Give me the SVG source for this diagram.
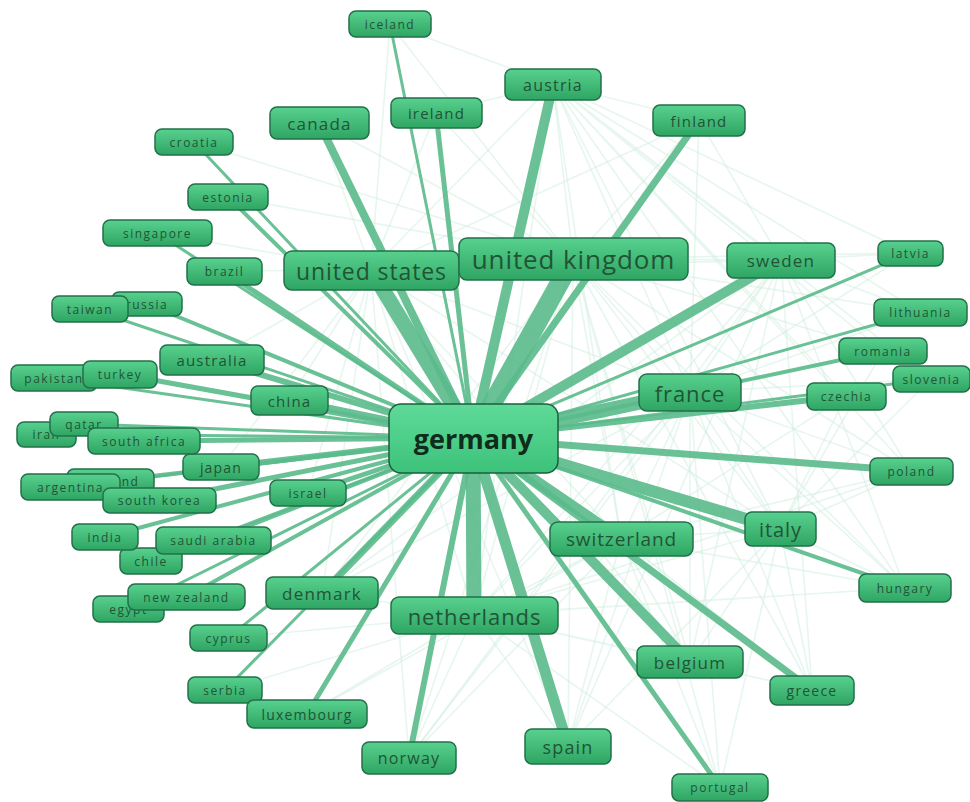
<svg xmlns="http://www.w3.org/2000/svg" width="970" height="802" viewBox="0 0 970 802">
<defs>
<linearGradient id="g" x1="0" y1="0" x2="0" y2="1">
<stop offset="0" stop-color="#58d08e"/>
<stop offset="1" stop-color="#2fa563"/>
</linearGradient>
<linearGradient id="gc" x1="0" y1="0" x2="0" y2="1">
<stop offset="0" stop-color="#5fda98"/>
<stop offset="1" stop-color="#3cc27a"/>
</linearGradient>
<style>
.n rect{fill:url(#g);stroke:#22704a;stroke-width:1.5}
.n text{font-family:"Open Sans","DejaVu Sans",sans-serif;fill:#1f5535;text-anchor:middle;dominant-baseline:central}
.n text.s{font-size:12px;letter-spacing:1.5px}
.n text.m{letter-spacing:1.2px}
.n text.l{letter-spacing:0.9px}
.mesh path{fill:none;stroke:#cfeee0;stroke-width:1.6;opacity:0.5}
.e line{stroke:#5abb8b;stroke-linecap:butt;opacity:0.9}
</style>
</defs>
<rect width="970" height="802" fill="#ffffff"/>
<g class="mesh" id="mesh">
<path d="M573 259L390 24M573 259L699 120M573 259L781 260M573 259L910 253M573 259L920 312M573 259L883 351M573 259L690 392M573 259L911 471M573 259L780 529M573 259L905 588M573 259L621 539M573 259L690 662M573 259L812 690M573 259L568 746M573 259L720 787M573 259L474 615M573 259L409 758M573 259L322 593M573 259L436 113M573 259L553 84M573 259L319 123M573 259L194 142M573 259L228 197"/>
<path d="M371 270L319 123M371 270L390 24M371 270L436 113M371 270L157 233M371 270L224 271M371 270L212 360M371 270L289 400M371 270L221 467M371 270L308 493M371 270L474 615M371 270L322 593M371 270L690 392M371 270L621 539M371 270L780 529M371 270L690 662M371 270L568 746M371 270L409 758M371 270L553 84M371 270L699 120M371 270L781 260"/>
<path d="M690 392L553 84M690 392L699 120M690 392L781 260M690 392L911 471M690 392L780 529M690 392L905 588M690 392L621 539M690 392L690 662M690 392L812 690M690 392L720 787M690 392L568 746M690 392L474 615M690 392L910 253M690 392L920 312M690 392L883 351M690 392L931 379M690 392L409 758M690 392L322 593"/>
<path d="M474 615L690 662M474 615L568 746M474 615L409 758M474 615L322 593M474 615L307 714M474 615L228 638M474 615L225 690M474 615L621 539M474 615L780 529M474 615L812 690M474 615L720 787M474 615L911 471M474 615L905 588M474 615L553 84M474 615L781 260"/>
<path d="M621 539L553 84M621 539L780 529M621 539L812 690M621 539L690 662M621 539L905 588M621 539L911 471M621 539L720 787M621 539L568 746M621 539L409 758M621 539L307 714M621 539L846 396"/>
<path d="M780 529L812 690M780 529L905 588M780 529L911 471M780 529L690 662M780 529L720 787M780 529L846 396M780 529L931 379M780 529L553 84M780 529L883 351M780 529L568 746"/>
<path d="M553 84L699 120M553 84L781 260M553 84L390 24M553 84L436 113M553 84L910 253M553 84L920 312M553 84L846 396M553 84L905 588M553 84L931 379M553 84L911 471M553 84L883 351"/>
<path d="M781 260L699 120M781 260L910 253M781 260L920 312M781 260L911 471M781 260L905 588M781 260L812 690M781 260L690 662M781 260L568 746M781 260L409 758M781 260L322 593"/>
</g>
<g class="e" id="connectors">
<line x1="473" y1="438" x2="390" y2="24" stroke-width="3"/>
<line x1="473" y1="438" x2="553" y2="84" stroke-width="10"/>
<line x1="473" y1="438" x2="436" y2="113" stroke-width="5"/>
<line x1="473" y1="438" x2="699" y2="120" stroke-width="7"/>
<line x1="473" y1="438" x2="319" y2="123" stroke-width="8"/>
<line x1="473" y1="438" x2="194" y2="142" stroke-width="3"/>
<line x1="473" y1="438" x2="228" y2="197" stroke-width="4"/>
<line x1="473" y1="438" x2="157" y2="233" stroke-width="3"/>
<line x1="473" y1="438" x2="224" y2="271" stroke-width="5"/>
<line x1="473" y1="438" x2="371" y2="270" stroke-width="15"/>
<line x1="473" y1="438" x2="573" y2="259" stroke-width="19"/>
<line x1="473" y1="438" x2="781" y2="260" stroke-width="10"/>
<line x1="473" y1="438" x2="910" y2="253" stroke-width="3"/>
<line x1="473" y1="438" x2="920" y2="312" stroke-width="3"/>
<line x1="473" y1="438" x2="883" y2="351" stroke-width="4"/>
<line x1="473" y1="438" x2="931" y2="379" stroke-width="3"/>
<line x1="473" y1="438" x2="846" y2="396" stroke-width="6"/>
<line x1="473" y1="438" x2="690" y2="392" stroke-width="14"/>
<line x1="473" y1="438" x2="911" y2="471" stroke-width="7"/>
<line x1="473" y1="438" x2="780" y2="529" stroke-width="12"/>
<line x1="473" y1="438" x2="905" y2="588" stroke-width="4"/>
<line x1="473" y1="438" x2="621" y2="539" stroke-width="11"/>
<line x1="473" y1="438" x2="690" y2="662" stroke-width="10"/>
<line x1="473" y1="438" x2="812" y2="690" stroke-width="7"/>
<line x1="473" y1="438" x2="720" y2="787" stroke-width="5"/>
<line x1="473" y1="438" x2="568" y2="746" stroke-width="11"/>
<line x1="473" y1="438" x2="409" y2="758" stroke-width="6"/>
<line x1="473" y1="438" x2="474" y2="615" stroke-width="15"/>
<line x1="473" y1="438" x2="307" y2="714" stroke-width="5"/>
<line x1="473" y1="438" x2="225" y2="690" stroke-width="3"/>
<line x1="473" y1="438" x2="228" y2="638" stroke-width="3"/>
<line x1="473" y1="438" x2="322" y2="593" stroke-width="7"/>
<line x1="473" y1="438" x2="186" y2="597" stroke-width="4"/>
<line x1="473" y1="438" x2="128" y2="609" stroke-width="3"/>
<line x1="473" y1="438" x2="151" y2="561" stroke-width="3"/>
<line x1="473" y1="438" x2="213" y2="540" stroke-width="4"/>
<line x1="473" y1="438" x2="105" y2="537" stroke-width="4"/>
<line x1="473" y1="438" x2="308" y2="493" stroke-width="5"/>
<line x1="473" y1="438" x2="159" y2="500" stroke-width="5"/>
<line x1="473" y1="438" x2="70" y2="487" stroke-width="3"/>
<line x1="473" y1="438" x2="110" y2="481" stroke-width="4"/>
<line x1="473" y1="438" x2="221" y2="467" stroke-width="6"/>
<line x1="473" y1="438" x2="144" y2="441" stroke-width="5"/>
<line x1="473" y1="438" x2="84" y2="424" stroke-width="3"/>
<line x1="473" y1="438" x2="46" y2="434" stroke-width="3"/>
<line x1="473" y1="438" x2="289" y2="400" stroke-width="7"/>
<line x1="473" y1="438" x2="212" y2="360" stroke-width="6"/>
<line x1="473" y1="438" x2="120" y2="374" stroke-width="5"/>
<line x1="473" y1="438" x2="54" y2="378" stroke-width="3"/>
<line x1="473" y1="438" x2="90" y2="309" stroke-width="3"/>
<line x1="473" y1="438" x2="147" y2="304" stroke-width="4"/>
</g>
<g class="n">
<g id="iceland"><rect x="349" y="11" width="82" height="26" rx="7"/><text class="s" x="390" y="24">iceland</text></g>
<g id="austria"><rect x="505" y="69" width="96" height="31" rx="7"/><text class="m" x="553" y="84.5" font-size="16">austria</text></g>
<g id="ireland"><rect x="391" y="98" width="91" height="30" rx="7"/><text class="m" x="436.5" y="113" font-size="15">ireland</text></g>
<g id="finland"><rect x="653" y="105" width="92" height="31" rx="7"/><text class="m" x="699" y="120.5" font-size="15">finland</text></g>
<g id="canada"><rect x="270" y="107" width="99" height="32" rx="7"/><text class="m" x="319.5" y="123" font-size="17">canada</text></g>
<g id="croatia"><rect x="155" y="129" width="78" height="26" rx="7"/><text class="s" x="194" y="142">croatia</text></g>
<g id="estonia"><rect x="188" y="184" width="80" height="26" rx="7"/><text class="s" x="228" y="197">estonia</text></g>
<g id="singapore"><rect x="103" y="220" width="109" height="26" rx="7"/><text class="s" x="157.5" y="233">singapore</text></g>
<g id="brazil"><rect x="187" y="258" width="75" height="27" rx="7"/><text class="s" x="224.5" y="271.5">brazil</text></g>
<g id="united-states"><rect x="284" y="251" width="175" height="39" rx="8"/><text class="l" x="371.5" y="270.5" font-size="23">united states</text></g>
<g id="united-kingdom"><rect x="459" y="238" width="229" height="42" rx="8"/><text class="l" x="573.5" y="259" font-size="26">united kingdom</text></g>
<g id="sweden"><rect x="727" y="243" width="108" height="35" rx="7"/><text class="m" x="781" y="260.5" font-size="17">sweden</text></g>
<g id="latvia"><rect x="878" y="241" width="65" height="25" rx="7"/><text class="s" x="910.5" y="253.5">latvia</text></g>
<g id="lithuania"><rect x="874" y="299" width="93" height="27" rx="7"/><text class="s" x="920.5" y="312.5">lithuania</text></g>
<g id="romania"><rect x="839" y="338" width="88" height="26" rx="7"/><text class="s" x="883" y="351">romania</text></g>
<g id="slovenia"><rect x="893" y="366" width="77" height="26" rx="7"/><text class="s" x="931.5" y="379">slovenia</text></g>
<g id="czechia"><rect x="807" y="383" width="79" height="27" rx="7"/><text class="s" x="846.5" y="396.5">czechia</text></g>
<g id="france"><rect x="639" y="374" width="102" height="37" rx="8"/><text class="l" x="690" y="392.5" font-size="22">france</text></g>
<g id="poland"><rect x="870" y="458" width="83" height="27" rx="7"/><text class="s" x="911.5" y="471.5">poland</text></g>
<g id="italy"><rect x="745" y="512" width="71" height="34" rx="7"/><text class="l" x="780.5" y="529" font-size="20">italy</text></g>
<g id="hungary"><rect x="859" y="574" width="92" height="28" rx="7"/><text class="s" x="905" y="588">hungary</text></g>
<g id="switzerland"><rect x="550" y="522" width="143" height="34" rx="8"/><text class="l" x="621.5" y="539" font-size="19">switzerland</text></g>
<g id="belgium"><rect x="637" y="646" width="106" height="32" rx="7"/><text class="m" x="690" y="662" font-size="17">belgium</text></g>
<g id="greece"><rect x="770" y="676" width="84" height="29" rx="7"/><text class="m" x="812" y="690.5" font-size="14">greece</text></g>
<g id="portugal"><rect x="672" y="774" width="96" height="27" rx="7"/><text class="s" x="720" y="787.5">portugal</text></g>
<g id="spain"><rect x="525" y="729" width="86" height="35" rx="7"/><text class="m" x="568" y="746.5" font-size="18">spain</text></g>
<g id="norway"><rect x="362" y="742" width="94" height="32" rx="7"/><text class="m" x="409" y="758" font-size="16">norway</text></g>
<g id="netherlands"><rect x="391" y="597" width="167" height="37" rx="8"/><text class="l" x="474.5" y="615.5" font-size="22">netherlands</text></g>
<g id="serbia"><rect x="188" y="677" width="74" height="26" rx="7"/><text class="s" x="225" y="690">serbia</text></g>
<g id="luxembourg"><rect x="247" y="700" width="120" height="28" rx="7"/><text class="m" x="307" y="714" font-size="14">luxembourg</text></g>
<g id="cyprus"><rect x="190" y="625" width="77" height="26" rx="7"/><text class="s" x="228.5" y="638">cyprus</text></g>
<g id="denmark"><rect x="266" y="577" width="112" height="32" rx="7"/><text class="m" x="322" y="593" font-size="17">denmark</text></g>
<g id="egypt"><rect x="93" y="596" width="71" height="26" rx="7"/><text class="s" x="128.5" y="609">egypt</text></g>
<g id="new-zealand"><rect x="128" y="584" width="117" height="26" rx="7"/><text class="s" x="186.5" y="597">new zealand</text></g>
<g id="chile"><rect x="120" y="548" width="62" height="26" rx="7"/><text class="s" x="151" y="561">chile</text></g>
<g id="india"><rect x="72" y="524" width="66" height="26" rx="7"/><text class="s" x="105" y="537">india</text></g>
<g id="saudi-arabia"><rect x="156" y="527" width="115" height="27" rx="7"/><text class="s" x="213.5" y="540.5">saudi arabia</text></g>
<g id="israel"><rect x="270" y="480" width="76" height="26" rx="7"/><text class="s" x="308" y="493">israel</text></g>
<g id="thailand"><rect x="67" y="469" width="87" height="24" rx="7"/><text class="s" x="110.5" y="481">thailand</text></g>
<g id="argentina"><rect x="21" y="474" width="99" height="26" rx="7"/><text class="s" x="70.5" y="487">argentina</text></g>
<g id="south-korea"><rect x="103" y="488" width="113" height="25" rx="7"/><text class="s" x="159.5" y="500.5">south korea</text></g>
<g id="japan"><rect x="183" y="454" width="76" height="26" rx="7"/><text class="m" x="221" y="467" font-size="14">japan</text></g>
<g id="iran"><rect x="17" y="422" width="59" height="25" rx="7"/><text class="s" x="46.5" y="434.5">iran</text></g>
<g id="qatar"><rect x="50" y="412" width="68" height="24" rx="7"/><text class="s" x="84" y="424">qatar</text></g>
<g id="south-africa"><rect x="88" y="428" width="112" height="26" rx="7"/><text class="s" x="144" y="441">south africa</text></g>
<g id="china"><rect x="251" y="386" width="77" height="29" rx="7"/><text class="m" x="289.5" y="400.5" font-size="15">china</text></g>
<g id="australia"><rect x="160" y="345" width="104" height="30" rx="7"/><text class="m" x="212" y="360" font-size="15">australia</text></g>
<g id="pakistan"><rect x="11" y="365" width="86" height="26" rx="7"/><text class="s" x="54" y="378">pakistan</text></g>
<g id="turkey"><rect x="83" y="361" width="74" height="27" rx="7"/><text class="s" x="120" y="374.5">turkey</text></g>
<g id="russia"><rect x="112" y="292" width="70" height="24" rx="7"/><text class="s" x="147" y="304">russia</text></g>
<g id="taiwan"><rect x="52" y="296" width="76" height="26" rx="7"/><text class="s" x="90" y="309">taiwan</text></g>
<g id="germany"><rect x="389" y="404" width="169" height="69" rx="12" style="fill:url(#gc);stroke:#1d5e3c"/><text x="473.5" y="438.5" font-size="27" font-weight="bold" style="fill:#0f2c1b">germany</text></g>
</g>
</svg>
